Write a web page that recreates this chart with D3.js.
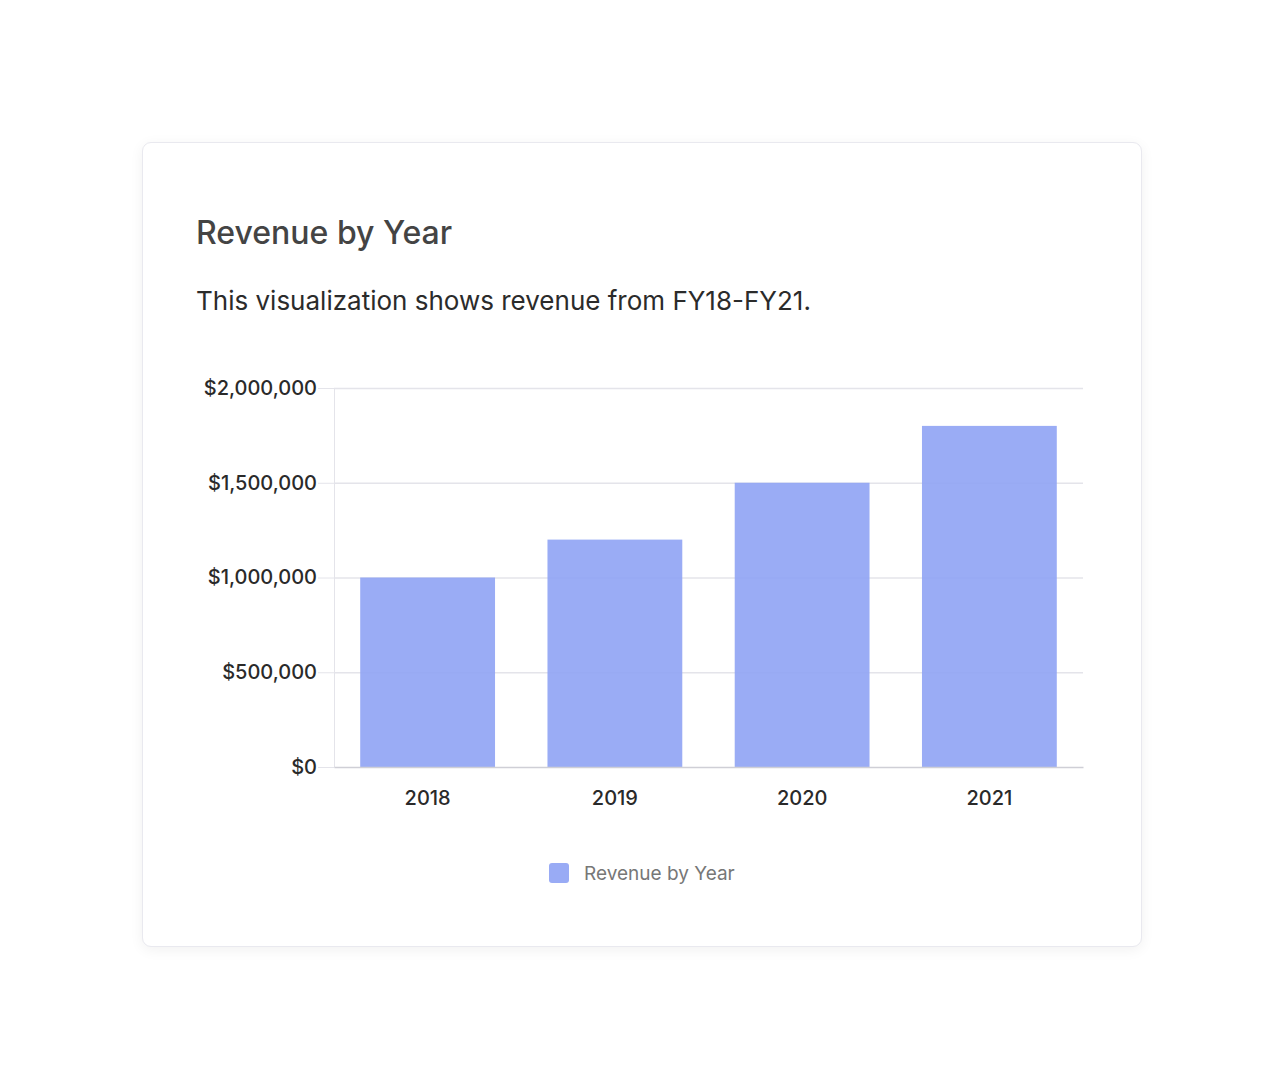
<!DOCTYPE html>
<html>
<head>
    <title>Revenue by Year</title>
    <script src="https://d3js.org/d3.v7.min.js"></script>
    <style>
        body {
            margin: 0;
            background: #ffffff;
            font-family: Inter, "Noto Sans", sans-serif;
        }
        .card {
            position: absolute;
            left: 142px;
            top: 142px;
            width: 998px;
            height: 803px;
            background: #fff;
            border: 1px solid #e9e9ef;
            border-radius: 9px;
            box-shadow: 0 3px 14px rgba(0, 0, 0, 0.06);
        }
    </style>
</head>
<body>
    <div class="card" id="card"></div>

    <script>
        // data
        var years = ["2018", "2019", "2020", "2021"];
        var revenue = [1000000, 1200000, 1500000, 1800000];
        var yTicks = [0, 500000, 1000000, 1500000, 2000000];
        var seriesName = "Revenue by Year";

        var width = 1000, height = 805;
        // plot area inside the card
        var plotLeft = 192, plotRight = 941, plotTop = 246, plotBottom = 625;

        var svg = d3.select("#card")
            .append("svg")
            .attr("width", width)
            .attr("height", height)
            .style("position", "absolute")
            .style("left", "-1px")
            .style("top", "-1px");

        svg.append("text")
            .attr("x", 54)
            .attr("y", 102)
            .style("font-size", "32px")
            .style("font-weight", 500)
            .style("fill", "#444")
            .text("Revenue by Year");

        svg.append("text")
            .attr("x", 54)
            .attr("y", 168)
            .style("font-size", "26px")
            .style("fill", "#2b2b2b")
            .text("This visualization shows revenue from FY18-FY21.");

        var x = d3.scaleBand()
            .domain(years)
            .range([plotLeft, plotRight])
            .paddingInner(0.28)
            .paddingOuter(0.14);

        var y = d3.scaleLinear()
            .domain([0, 2000000])
            .range([plotBottom, plotTop]);

        var fmt = d3.format("$,");

        // y axis with gridlines
        var yAxis = svg.append("g")
            .attr("transform", "translate(" + plotLeft + ",0)")
            .call(d3.axisLeft(y).tickValues(yTicks).tickSize(16).tickPadding(1).tickFormat(fmt));
        yAxis.select(".domain").attr("stroke", "#e4e4ea");
        yAxis.selectAll(".tick line").attr("stroke", "#e4e4ea");
        yAxis.selectAll(".tick text")
            .style("font-family", "Inter, sans-serif")
            .style("font-size", "20px")
            .style("font-weight", 500)
            .style("fill", "#2a2a2a");

        svg.append("g")
            .selectAll("line")
            .data(yTicks.filter(function(d) { return d > 0; }))
            .join("line")
            .attr("x1", plotLeft)
            .attr("x2", plotRight)
            .attr("y1", function(d) { return y(d) + 0.5; })
            .attr("y2", function(d) { return y(d) + 0.5; })
            .attr("stroke", "#e4e4ea")
            .attr("stroke-width", 1.5);

        // bars
        svg.append("g")
            .selectAll("rect")
            .data(revenue)
            .join("rect")
            .attr("x", function(d, i) { return x(years[i]); })
            .attr("y", function(d) { return y(d); })
            .attr("width", x.bandwidth())
            .attr("height", function(d) { return y(0) - y(d); })
            .attr("fill", "rgb(143,163,244)")
            .attr("fill-opacity", 0.9);

        // x axis
        var xAxis = svg.append("g")
            .attr("transform", "translate(0," + plotBottom + ")")
            .call(d3.axisBottom(x).tickSize(0).tickPadding(24));
        xAxis.select(".domain").attr("stroke", "#cfcfd6").attr("stroke-width", 1.5);
        xAxis.selectAll(".tick text")
            .style("font-family", "Inter, sans-serif")
            .style("font-size", "20px")
            .style("font-weight", 500)
            .style("fill", "#2a2a2a");

        // legend
        var legend = svg.append("g")
            .attr("transform", "translate(407,721)");
        legend.append("rect")
            .attr("width", 20)
            .attr("height", 20)
            .attr("rx", 3)
            .attr("fill", "rgb(153,171,245)");
        legend.append("text")
            .attr("x", 35)
            .attr("y", 17)
            .style("font-size", "19px")
            .style("fill", "#777")
            .text(seriesName);
    </script>
</body>
</html>
